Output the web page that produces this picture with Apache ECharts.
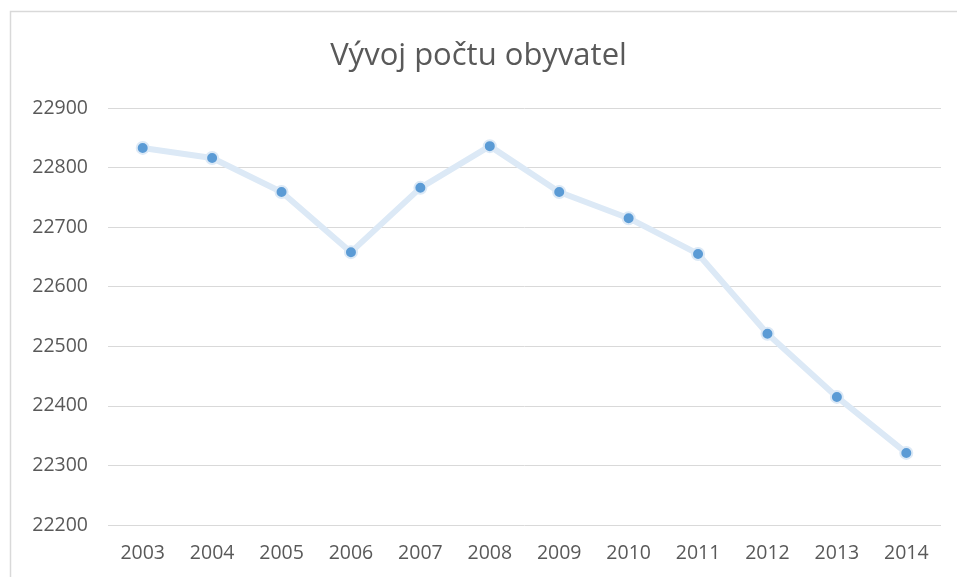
<!DOCTYPE html>
<html><head><meta charset="utf-8">
<script src="https://cdn.jsdelivr.net/npm/echarts@6/dist/echarts.min.js"></script>
<style>html,body{margin:0;padding:0;background:#fff;}#c{width:957px;height:577px;}</style>
</head><body><div id="c"></div>
<script>
const years = ['2003','2004','2005','2006','2007','2008','2009','2010','2011','2012','2013','2014'];
const population = [22833, 22816, 22759, 22658, 22766, 22836, 22759, 22715, 22655, 22521, 22415, 22321];
const titleText = 'Vývoj počtu obyvatel';

const chart = echarts.init(document.getElementById('c'));
const font = '"Open Sans", "Liberation Sans", sans-serif';
chart.setOption({
  animation: false,
  graphic: [{
    type: 'rect', left: 8, top: 9,
    shape: { width: 1000, height: 600 },
    style: { fill: 'none', stroke: '#d9d9d9', lineWidth: 1.5 }
  }],
  title: {
    text: titleText, left: 'center', top: 36,
    textStyle: { fontFamily: font, fontSize: 31, fontWeight: 'normal', color: '#595959' }
  },
  grid: { left: 108, right: 16, top: 108, bottom: 52, containLabel: false },
  xAxis: {
    type: 'category', data: years, boundaryGap: true,
    axisLine: { show: false }, axisTick: { show: false },
    axisLabel: { fontFamily: font, fontSize: 19.5, color: '#595959', margin: 18 }
  },
  yAxis: {
    type: 'value', min: 22200, max: 22900, interval: 100,
    axisLine: { show: false }, axisTick: { show: false },
    axisLabel: { fontFamily: font, fontSize: 19.5, color: '#595959', margin: 20,
      formatter: v => String(v) },
    splitLine: { lineStyle: { color: '#d9d9d9', width: 1 } }
  },
  series: [{
    type: 'line', data: population,
    symbol: 'circle', symbolSize: 12,
    lineStyle: { color: '#dce9f6', width: 6 },
    itemStyle: { color: '#5b9bd5', borderColor: '#dce9f6', borderWidth: 2 }
  }]
});
</script></body></html>
